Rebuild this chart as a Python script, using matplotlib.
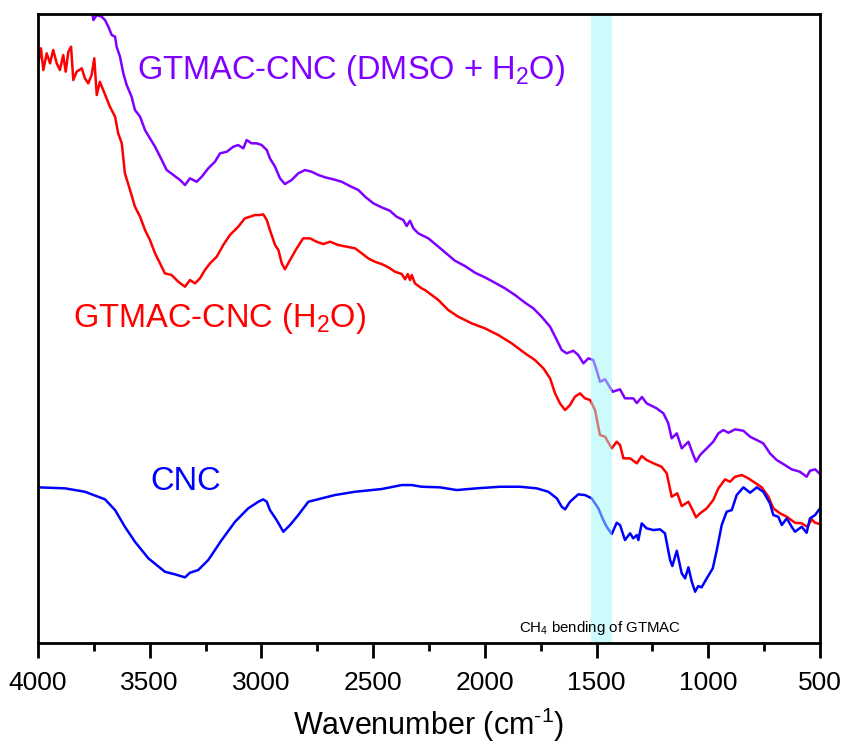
import matplotlib
matplotlib.use("Agg")
import matplotlib.pyplot as plt
import numpy as np

plt.rcParams['font.family'] = ['Liberation Sans', 'DejaVu Sans']
plt.rcParams['mathtext.fontset'] = 'custom'
plt.rcParams['mathtext.rm'] = 'Liberation Sans'
plt.rcParams['mathtext.it'] = 'Liberation Sans:italic'
plt.rcParams['mathtext.bf'] = 'Liberation Sans:bold'

# ---------------- data (wavenumber in cm^-1, offset transmittance in a.u.) ----------------
cnc_wn = [4000, 3879, 3790, 3700, 3655, 3611, 3566, 3506, 3432, 3387, 3342, 3320, 3283, 3238,
          3178, 3118, 3059, 3014, 2992, 2976, 2962, 2932, 2902, 2872, 2835, 2790, 2730, 2671,
          2581, 2462, 2372, 2327, 2283, 2201, 2126, 2037, 1932, 1843, 1768, 1716, 1678, 1656,
          1641, 1619, 1582, 1552, 1522, 1492, 1470, 1455, 1432, 1410, 1395, 1373, 1350, 1336,
          1320, 1313, 1298, 1276, 1246, 1216, 1194, 1171, 1161, 1141, 1119, 1104, 1089, 1074,
          1059, 1045, 1030, 1007, 980, 962, 940, 918, 895, 873, 843, 813, 783, 754, 724, 709,
          687, 671, 649, 627, 612, 582, 560, 545, 522, 500]
cnc_t = [155.7, 154.7, 151.3, 143.7, 133, 116.3, 101.3, 84.7, 71.3, 68.7, 65.7, 70.3, 73, 83,
         103, 121.3, 134.7, 141.3, 143.7, 141.3, 133, 123, 111.3, 118, 128, 141.3, 144.7, 148,
         151.3, 154, 158, 158, 156.3, 155.7, 153, 154.7, 156.3, 156.3, 154.7, 151.3, 144.7, 136.3,
         133.7, 141.3, 148.7, 148, 144.7, 134.7, 123, 116.3, 109, 120.3, 118, 103, 109.7, 104.7,
         108, 103, 119.7, 114.7, 113, 113.7, 109.7, 83, 77, 92.3, 69.7, 64.7, 75.7, 61.3,
         51.3, 57, 55.7, 64.7, 74.7, 93, 118, 131.3, 133, 148, 155.7, 150.3, 155.7, 151.3, 139.7, 128,
         126.3, 118, 124.7, 116.3, 111.3, 116.3, 110.3, 124.7, 128, 134.7]

h2o_wn = [3996, 3987, 3976, 3961, 3946, 3932, 3916, 3902, 3887, 3876, 3864, 3852, 3842, 3827,
          3804, 3790, 3775, 3760, 3748, 3737, 3723, 3708, 3693, 3678, 3655, 3641, 3625, 3611,
          3588, 3566, 3543, 3521, 3499, 3476, 3454, 3432, 3402, 3372, 3342, 3320, 3297, 3275,
          3253, 3230, 3200, 3171, 3141, 3104, 3074, 3051, 3029, 3006, 2992, 2976, 2962, 2939,
          2924, 2909, 2895, 2872, 2842, 2813, 2783, 2753, 2723, 2693, 2656, 2618, 2581, 2551,
          2522, 2492, 2462, 2432, 2402, 2372, 2357, 2345, 2335, 2327, 2313, 2283, 2268, 2208,
          2164, 2119, 2059, 2000, 1940, 1880, 1820, 1776, 1738, 1708, 1686, 1664, 1641, 1619,
          1597, 1574, 1552, 1529, 1507, 1492, 1485, 1462, 1432, 1410, 1395, 1380, 1350, 1320,
          1298, 1276, 1238, 1209, 1186, 1164, 1139, 1119, 1089, 1074, 1055, 1037, 1007, 978,
          955, 925, 903, 880, 850, 821, 791, 761, 731, 709, 679, 649, 612, 582, 557, 537, 522, 500]
h2o_t = [583, 594.7, 573, 589.7, 579.7, 593, 579.7, 573, 588, 571.3, 591.3, 596.3, 563, 571.3,
         574.7, 564.7, 559.7, 568, 584.7, 548, 561.3, 553, 544.7, 536.3, 526.3, 509.7, 499.7, 469.7,
         453, 436.3, 426.3, 413, 403, 389.7, 379.7, 369.7, 368, 361.3, 356.3, 363, 359.7, 364.7,
         373, 379.7, 386.3, 398, 408, 416.3, 424.7, 426.3, 428, 428, 428.7, 423, 413, 398,
         393, 379.7, 373.7, 383, 394.7, 404.7, 404.7, 401.3, 399, 401.3, 398, 396.3, 394.7, 389.7,
         384.7, 381.3, 379, 375.7, 371.3, 369, 363.7, 369, 363, 368, 359.7, 354.7, 353, 343,
         333, 326.3, 319.7, 314.7, 308, 299.7, 289.7, 283, 274.7, 264.7, 249.7, 239.7, 233, 238,
         246.3, 249.7, 244.7, 243, 233, 216.3, 208, 206.3, 194.7, 201.3, 198, 184.7, 184.7, 179.7,
         187, 183, 179, 176.3, 169.7, 146.3, 149.7, 137, 141.3, 134.7, 125.7, 129.7, 134.7, 143,
         154.7, 163.7, 161.3, 166.3, 168, 164.7, 160.3, 155.7, 146.3, 134.7, 129.7, 126.3, 120.3,
         119.7, 116.3, 123.7, 120.3, 119]

dmso_wn = [4000, 3850, 3790, 3758, 3752, 3737, 3715, 3700, 3685, 3670, 3655, 3648, 3633, 3618,
           3603, 3581, 3566, 3543, 3521, 3499, 3476, 3446, 3424, 3394, 3364, 3342, 3320, 3290,
           3267, 3238, 3208, 3185, 3155, 3126, 3104, 3081, 3066, 3044, 3021, 2999, 2976, 2962,
           2939, 2917, 2895, 2865, 2835, 2805, 2775, 2745, 2715, 2678, 2641, 2604, 2566, 2536,
           2499, 2462, 2425, 2395, 2365, 2350, 2335, 2320, 2298, 2283, 2253, 2208, 2164, 2134,
           2089, 2044, 2000, 1955, 1910, 1865, 1820, 1783, 1746, 1708, 1678, 1656, 1634, 1604,
           1582, 1559, 1537, 1515, 1500, 1485, 1462, 1428, 1395, 1373, 1336, 1320, 1297, 1276,
           1231, 1201, 1179, 1164, 1141, 1119, 1089, 1070, 1055, 1037, 1007, 978, 955, 933, 910,
           880, 843, 813, 783, 754, 724, 694, 657, 627, 590, 560, 545, 522, 500]
dmso_t = [690, 670, 645, 631, 623, 628, 626.3, 623, 616.3, 608, 606.3, 596.3, 586.3, 569.7,
          558, 546.3, 533, 526.3, 513, 504.7, 496.3, 483, 473, 468, 463, 458, 464.7, 461.3,
          466.3, 474.7, 481.3, 489.7, 491.3, 496.3, 498, 494.7, 503, 499.7, 499.7, 498, 493, 484.7,
          476.3, 464.7, 459, 463, 469.7, 473, 471.3, 468, 465.7, 463.7, 461.3, 457, 453, 446.3,
          439.7, 435.7, 432.3, 426.3, 423, 417, 422.3, 414.7, 409.7, 408, 404.7, 396.3, 388, 382.3,
          377, 370.3, 365.7, 360.3, 354.7, 348, 340.3, 334.7, 326.3, 316.3, 303, 293, 289.7, 292.3,
          288, 279.7, 284.7, 283, 273, 261.3, 263.7, 251.3, 253.7, 244.7, 244.7, 240, 246, 239.7,
          234.7, 229.7, 219.7, 204.7, 209.7, 194.7, 201.3, 189.7, 181.3, 188, 194.7, 201.3, 209.7, 213, 210.3,
          213.7, 212.3, 206.3, 203, 199.7, 189.7, 183, 178, 173.7, 171.3, 166.3, 172.3, 173.7, 169]

band = [1525, 1432]
xticks = [4000, 3500, 3000, 2500, 2000, 1500, 1000, 500]

PURPLE = '#8000FF'
RED = '#FF0000'
BLUE = '#0000FF'

fig = plt.figure(figsize=(8.44, 7.46), dpi=100)
ax = fig.add_axes([0.045, 0.138, 0.9266, 0.8432])

ax.plot(dmso_wn, dmso_t, color=PURPLE, lw=1.8, zorder=2)
ax.plot(h2o_wn, h2o_t, color=RED, lw=1.8, zorder=2)
ax.plot(cnc_wn, cnc_t, color=BLUE, lw=1.8, zorder=2)

ax.axvspan(band[0], band[1], color='#9DF6F6', alpha=0.5, lw=0, zorder=3)

ax.set_xlim(4000, 500)
ax.set_ylim(0, 629)
ax.set_xticks(xticks)
ax.set_xticklabels([str(v) for v in xticks])
ax.set_xticks([3750, 3250, 2750, 2250, 1750, 1250, 750], minor=True)
ax.set_yticks([])
ax.tick_params(axis='x', which='major', direction='out', length=11, width=2, labelsize=19, pad=9)
ax.tick_params(axis='x', which='minor', direction='out', length=6, width=2)
for s in ax.spines.values():
    s.set_linewidth(2)
    s.set_zorder(5)

ax.set_xlabel('Wavenumber (cm$^{\\mathregular{\u2010}\\mathregular{1}}$)', fontsize=22, labelpad=8)

ax.text(3557, 573, r'GTMAC-CNC (DMSO + H$\mathregular{_2}$O)', color=PURPLE, fontsize=23.5,
        ha='left', va='center')
ax.text(3843, 325, r'GTMAC-CNC (H$\mathregular{_2}$O)', color=RED, fontsize=23.5,
        ha='left', va='center')
ax.text(3499, 162, 'CNC', color=BLUE, fontsize=23.5, ha='left', va='center')
ax.text(1485, 15, r'CH$\mathregular{_4}$ bending of GTMAC', color='black', fontsize=10.8,
        ha='center', va='center', zorder=6)

fig.savefig('out.png', dpi=100)
